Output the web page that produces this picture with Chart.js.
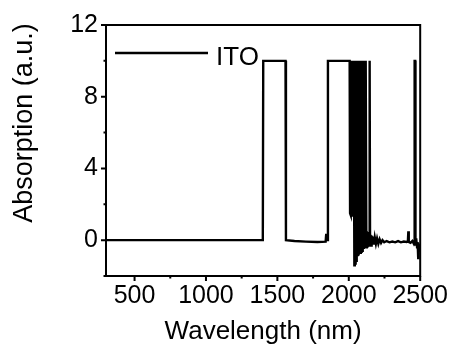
<!DOCTYPE html>
<html>
<head>
<meta charset="utf-8">
<script src="https://cdn.jsdelivr.net/npm/chart.js@4/dist/chart.umd.min.js"></script>
<style>
  html, body { margin: 0; padding: 0; background: #fff; }
  #wrap { width: 453px; height: 349px; }
</style>
</head>
<body>
<div id="wrap"><canvas id="c" width="453" height="349"></canvas></div>
<script>
// Absorption spectrum of ITO
const seriesLabel = 'ITO';
const xTitle = 'Wavelength (nm)';
const yTitle = 'Absorption (a.u.)';

const wavelength = [
  300, 1398, 1401, 1557, 1560, 1620, 1700, 1780, 1838, 1842, 1846, 1851, 1854,
  2006, 2009, 2012, 2015, 2018, 2021, 2024, 2027, 2030, 2033, 2036, 2039, 2042,
  2045, 2048, 2051, 2054, 2057, 2060, 2063, 2066, 2069, 2072, 2075, 2078, 2081,
  2084, 2087, 2090, 2093, 2096, 2099, 2102, 2105, 2108, 2111, 2114, 2117, 2120,
  2123, 2126, 2129, 2132, 2135, 2138, 2141, 2144, 2146, 2149, 2152, 2156, 2160,
  2165, 2170, 2176, 2182, 2190, 2198, 2207, 2216, 2226, 2236, 2248, 2265, 2285,
  2305, 2325, 2345, 2365, 2385, 2405, 2414, 2417, 2420, 2432, 2445, 2455, 2459,
  2461, 2465, 2467, 2472, 2478, 2482, 2486, 2489, 2494, 2500
];
const absorption = [
  0, 0, 10, 10, 0, -0.05, -0.08, -0.1, -0.08, 0.35, 0.05, 0, 10,
  10, 1.5, 10, 1.4, 10, 1.4, 10, 1.3, 10, 1.3, 10, -1.4, 10,
  -1.3, 10, -1.15, 10, -1.0, 10, -0.9, 10, -0.85, 10, -0.75, 10, -0.7,
  10, -0.65, 10, -0.6, 10, -0.55, 10, -0.5, 10, -0.45, 0.6, -0.4, 10,
  -0.4, 0.5, -0.35, 0.45, -0.3, 0.4, -0.3, 0.35, 10, -0.3, 0.3, -0.3, 0.25,
  -0.25, 0.2, -0.25, 0.15, -0.2, 0.1, -0.2, 0.05, -0.15, 0, -0.12, -0.05, -0.12,
  -0.08, -0.12, -0.05, -0.12, -0.08, -0.1, -0.05, 0.5, -0.1, -0.15, -0.05, -0.2, -0.1,
  10, 10, -0.3, 0.1, -0.4, -0.1, -1.0, -0.2, -0.5, -0.3
];

const xTickValues = [500, 1000, 1500, 2000, 2500];
const xMinorTicks = [750, 1250, 1750, 2250];
const yTickValues = [0, 4, 8, 12];
const yMinorTicks = [-2, 2, 6, 10];

const FONT = "'Liberation Sans', Arial, Helvetica, sans-serif";
Chart.defaults.font.family = FONT;
Chart.defaults.color = '#000';

// Box frame, tick marks, axis titles and the in-plot legend
const framePlugin = {
  id: 'frame',
  afterDraw(chart) {
    const { ctx, chartArea: a, scales: { x, y } } = chart;
    ctx.save();
    ctx.strokeStyle = '#000';
    ctx.lineWidth = 2;
    ctx.strokeRect(a.left, a.top, a.right - a.left, a.bottom - a.top);

    ctx.beginPath();
    xTickValues.forEach(v => { const p = x.getPixelForValue(v); ctx.moveTo(p, a.bottom); ctx.lineTo(p, a.bottom + 5); });
    xMinorTicks.forEach(v => { const p = x.getPixelForValue(v); ctx.moveTo(p, a.bottom); ctx.lineTo(p, a.bottom + 2.5); });
    yTickValues.forEach(v => { const p = y.getPixelForValue(v); ctx.moveTo(a.left, p); ctx.lineTo(a.left - 5, p); });
    yMinorTicks.forEach(v => { const p = y.getPixelForValue(v); ctx.moveTo(a.left, p); ctx.lineTo(a.left - 2.5, p); });
    ctx.stroke();

    ctx.fillStyle = '#000';
    ctx.textAlign = 'center';
    ctx.textBaseline = 'middle';
    ctx.font = '26px ' + FONT;
    ctx.fillText(xTitle, (a.left + a.right) / 2, 332);

    ctx.save();
    ctx.translate(25, 123);
    ctx.rotate(-Math.PI / 2);
    ctx.font = '27px ' + FONT;
    ctx.fillText(yTitle, 0, 0);
    ctx.restore();

    // legend entry
    const ds = chart.data.datasets[0];
    ctx.beginPath();
    ctx.lineWidth = ds.borderWidth;
    ctx.strokeStyle = ds.borderColor;
    ctx.moveTo(115, 53);
    ctx.lineTo(208, 53);
    ctx.stroke();
    ctx.textAlign = 'left';
    ctx.font = '26px ' + FONT;
    ctx.fillText(ds.label, 216, 58);
    ctx.restore();
  }
};

new Chart(document.getElementById('c'), {
  type: 'line',
  data: {
    datasets: [{
      label: seriesLabel,
      data: wavelength.map((w, i) => ({ x: w, y: absorption[i] })),
      borderColor: '#000',
      borderWidth: 2.4,
      pointRadius: 0,
      tension: 0,
      fill: false
    }]
  },
  options: {
    responsive: false,
    animation: false,
    layout: { padding: { left: 0, top: 25, right: 31, bottom: 0 } },
    plugins: { legend: { display: false }, tooltip: { enabled: false } },
    scales: {
      x: {
        type: 'linear', min: 300, max: 2500,
        grid: { display: false, drawTicks: false },
        border: { display: false },
        ticks: { padding: 5, autoSkip: false, maxRotation: 0, font: { size: 25 }, callback: v => String(v) },
        afterBuildTicks: s => { s.ticks = xTickValues.map(v => ({ value: v })); },
        afterFit: s => { s.height = 73; }
      },
      y: {
        type: 'linear', min: -2, max: 12,
        grid: { display: false, drawTicks: false },
        border: { display: false },
        ticks: { padding: 8, font: { size: 25 }, callback: v => String(v) },
        afterBuildTicks: s => { s.ticks = yTickValues.map(v => ({ value: v })); },
        afterFit: s => { s.width = 106; }
      }
    }
  },
  plugins: [framePlugin]
});
</script>
</body>
</html>
